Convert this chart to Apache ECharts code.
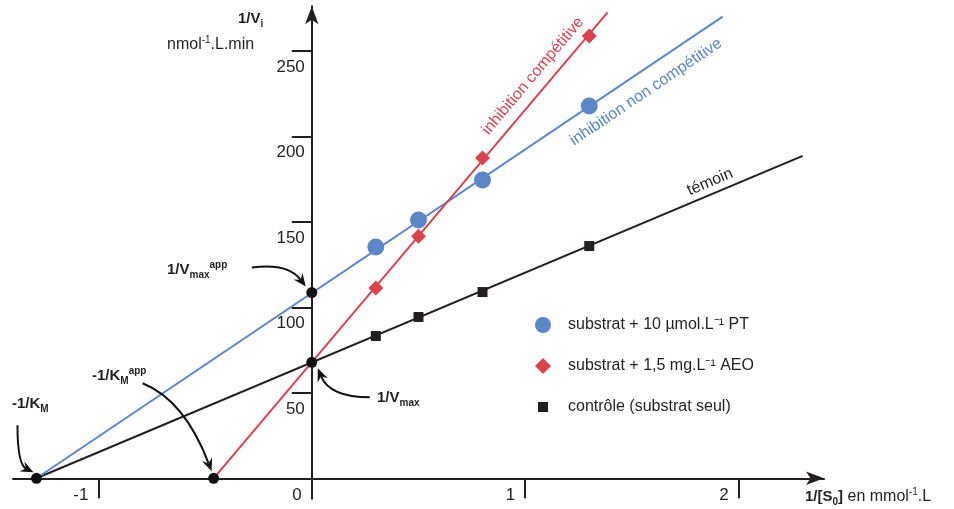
<!DOCTYPE html>
<html><head><meta charset="utf-8">
<script src="https://cdn.jsdelivr.net/npm/echarts@6/dist/echarts.min.js"></script>
<style>html,body{margin:0;padding:0;background:#fff}#c{width:954px;height:509px}</style>
</head><body><div id="c"></div>
<script>
const FONT = '"Liberation Sans", Arial, Helvetica, sans-serif';
// 1/[S0] (mmol^-1.L)
const xInv = [0.30, 0.50, 0.80, 1.30];
// 1/Vi values
const ctrlY = [83.2, 94.3, 108.9, 135.8];
const ptY   = [135.2, 151.0, 174.4, 217.7];
const aeoY  = [111.2, 141.6, 187.3, 258.7];
// fitted lines (endpoints)
const ctrlLine = [[-1.29, 0], [2.30, 188.5]];
const ptLine   = [[-1.29, 0], [1.925, 270]];
const aeoLine  = [[-0.46, 0], [1.386, 272.5]];
// intercepts: -1/KM, -1/KM app, 1/Vmax, 1/Vmax app
const intercepts = [[-1.29, 0], [-0.46, 0], [0, 67.8], [0, 108.6]];
const xTickVals = [-1, 1, 2];
const xLabelVals = [-1, 0, 1, 2];
const yTickVals = [50, 100, 150, 200, 250];
const seriesNames = ['substrat + 10 µmol.L⁻¹ PT', 'substrat + 1,5 mg.L⁻¹ AEO', 'contrôle (substrat seul)'];

const AX = '#231f20', BLUE = '#5b87c9', RED = '#d8434c';
const chart = echarts.init(document.getElementById('c'));
const zip = (xs, ys) => xs.map((x, i) => [x, ys[i]]);

chart.setOption({
  animation: false,
  textStyle: {fontFamily: FONT},
  grid: {left: 13, right: 130, top: 6.3, bottom: 10.2, containLabel: false, outerBoundsMode: 'none'},
  xAxis: {
    type: 'value', min: -1.4, max: 2.4, splitLine: {show: false},
    axisLine: {onZero: true, lineStyle: {color: AX, width: 2}, symbol: ['none', 'arrow'], symbolSize: [10, 18]},
    axisTick: {customValues: xTickVals, length: 20, lineStyle: {color: AX, width: 2}},
    axisLabel: {show: false}
  },
  yAxis: {
    type: 'value', min: -12, max: 276, splitLine: {show: false},
    axisLine: {onZero: true, lineStyle: {color: AX, width: 2}, symbol: ['none', 'arrow'], symbolSize: [10, 18]},
    axisTick: {customValues: yTickVals, length: 20, lineStyle: {color: AX, width: 2}},
    axisLabel: {show: false}
  },
  legend: {
    orient: 'vertical', left: 530, top: 312, itemWidth: 16, itemHeight: 16, itemGap: 25,
    textStyle: {fontSize: 16, color: AX, fontFamily: FONT, padding: [0, 0, 0, 12]},
    data: [
      {name: seriesNames[0], icon: 'circle'},
      {name: seriesNames[1], icon: 'diamond'},
      {name: seriesNames[2], icon: 'path://M0,0M3,3h10v10h-10zM16,16'}
    ]
  },
  series: [
    {type: 'line', data: ctrlLine, symbol: 'none', lineStyle: {color: AX, width: 2}, silent: true, z: 2},
    {type: 'line', data: ptLine, symbol: 'none', lineStyle: {color: BLUE, width: 2}, silent: true, z: 2},
    {type: 'line', data: aeoLine, symbol: 'none', lineStyle: {color: RED, width: 2}, silent: true, z: 2},
    {type: 'scatter', name: seriesNames[0], data: zip(xInv, ptY), symbol: 'circle', symbolSize: 17, itemStyle: {color: BLUE, opacity: 1}, z: 5},
    {type: 'scatter', name: seriesNames[1], data: zip(xInv, aeoY), symbol: 'diamond', symbolSize: 15, itemStyle: {color: RED, opacity: 1}, z: 5},
    {type: 'scatter', name: seriesNames[2], data: zip(xInv, ctrlY), symbol: 'rect', symbolSize: 10, itemStyle: {color: AX, opacity: 1}, z: 5},
    {type: 'scatter', data: intercepts, symbol: 'circle', symbolSize: 11, itemStyle: {color: '#111', opacity: 1}, z: 6}
  ]
});

const P = (x, y) => chart.convertToPixel({gridIndex: 0}, [x, y]);
function arrow(p, s, c, t) {
  const sx = p[0] + s[0], sy = p[1] + s[1], cx = p[0] + c[0], cy = p[1] + c[1], tx = p[0] + t[0], ty = p[1] + t[1];
  let dx = tx - cx, dy = ty - cy; const L = Math.hypot(dx, dy); dx /= L; dy /= L;
  const hl = 13, hw = 5.5, nx = -dy, ny = dx;
  const bx = tx - dx * hl, by = ty - dy * hl;
  const back = [tx - dx * hl * 0.65, ty - dy * hl * 0.65];
  return [
    {type: 'bezierCurve', silent: true, z: 10, shape: {x1: sx, y1: sy, x2: back[0], y2: back[1], cpx1: cx, cpy1: cy}, style: {stroke: '#111', lineWidth: 2, fill: 'none'}},
    {type: 'polygon', silent: true, z: 10, shape: {points: [[tx, ty], [bx + nx * hw, by + ny * hw], back, [bx - nx * hw, by - ny * hw]]}, style: {fill: '#111'}}
  ];
}
const RB = {
  b: {fontSize: 15, fontWeight: 'bold', fontFamily: FONT, lineHeight: 20, verticalAlign: 'middle'},
  sb: {fontSize: 10, fontWeight: 'bold', fontFamily: FONT, lineHeight: 10, verticalAlign: 'bottom'},
  pb: {fontSize: 10, fontWeight: 'bold', fontFamily: FONT, lineHeight: 10, verticalAlign: 'top'},
  r: {fontSize: 16, fontFamily: FONT, lineHeight: 20, verticalAlign: 'middle'},
  pr: {fontSize: 10, fontFamily: FONT, lineHeight: 10, verticalAlign: 'top'}
};
function txt(x, y, text, opts) {
  opts = opts || {};
  return {type: 'text', x: x, y: y, rotation: opts.rot || 0, silent: true, z: 11,
    style: {text: text, rich: opts.plain ? undefined : RB, fill: opts.fill || AX, align: opts.align || 'left',
      verticalAlign: opts.va || 'middle', font: (opts.size || 16) + 'px ' + FONT}};
}
const ang = (l) => { const a = P(l[0][0], l[0][1]), b = P(l[1][0], l[1][1]); return Math.atan2(a[1] - b[1], b[0] - a[0]); };

const pKM = P(intercepts[0][0], intercepts[0][1]);
const pKMa = P(intercepts[1][0], intercepts[1][1]);
const pV = P(intercepts[2][0], intercepts[2][1]);
const pVa = P(intercepts[3][0], intercepts[3][1]);

const tickLabels = [];
xLabelVals.forEach(v => { const p = P(v, 0); tickLabels.push(txt(p[0] - 10, p[1] + 9, String(v), {plain: true, size: 17, align: 'right', va: 'top'})); });
yTickVals.forEach(v => { const p = P(0, v); tickLabels.push(txt(p[0] - 7, p[1] + 8, String(v), {plain: true, size: 17, align: 'right', va: 'top'})); });

const g = [].concat(
  tickLabels,
  arrow(pKM, [-19, -53], [-19, -14], [-3, -6]),
  arrow(pKMa, [-71, -95], [-29, -78], [-2, -7]),
  arrow(pVa, [-60, -25], [-24, -30], [-6, -6]),
  arrow(pV, [58, 35], [18, 35], [6, 6]),
  [
    txt(238, 19, '{b|1/V}{sb|i}'),
    txt(167, 45, '{r|nmol}{pr|-1}{r|.L.min}'),
    txt(167, 270, '{b|1/V}{sb|max}{pb|app}'),
    txt(92, 376, '{b|-1/K}{sb|M}{pb|app}'),
    txt(12, 404, '{b|-1/K}{sb|M}'),
    txt(377, 398, '{b|1/V}{sb|max}'),
    txt(805, 497, '{b|1/[S}{sb|0}{b|]}{r| en mmol}{pr|-1}{r|.L}'),
    txt(533, 76, 'inhibition compétitive', {plain: true, fill: RED, align: 'center', rot: ang(aeoLine)}),
    txt(646, 92, 'inhibition non compétitive', {plain: true, fill: BLUE, align: 'center', rot: ang(ptLine)}),
    txt(710, 182, 'témoin', {plain: true, fill: AX, align: 'center', rot: ang(ctrlLine)})
  ]
);
chart.setOption({graphic: {elements: g}});
</script>
</body></html>
